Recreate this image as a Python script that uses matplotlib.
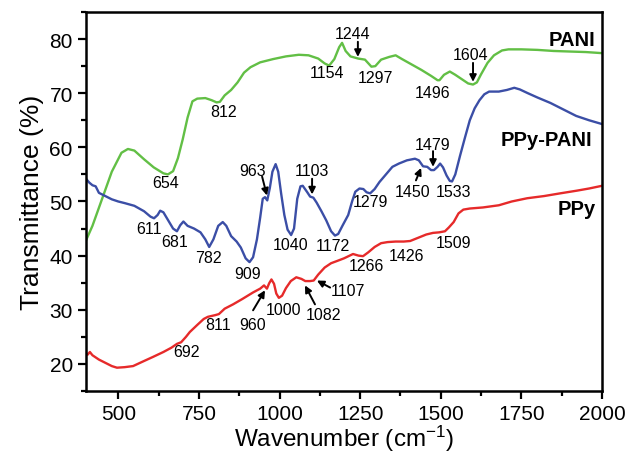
import matplotlib
matplotlib.use('Agg')
from matplotlib import pyplot as plt
from matplotlib.ticker import MultipleLocator

plt.rcParams['font.family'] = ['Liberation Sans', 'DejaVu Sans']
plt.rcParams['mathtext.default'] = 'regular'

# FTIR spectra: wavenumber (cm-1), transmittance (%)
pani_x = [400, 420, 450, 480, 510, 530, 550, 580, 610, 640, 654, 670, 685, 700, 715,
          730, 745, 770, 790, 805, 815, 830, 850, 870, 890, 910, 940, 980, 1020, 1060,
          1090, 1120, 1140, 1154, 1170, 1185, 1194, 1205, 1220, 1244, 1265, 1285, 1297,
          1315, 1340, 1360, 1380, 1410, 1440, 1470, 1490, 1496, 1510, 1528, 1545, 1565,
          1585, 1600, 1612, 1625, 1645, 1665, 1690, 1710, 1750, 1800, 1850, 1900, 1950, 2000]
pani_y = [42.8, 45.5, 50.5, 55.5, 59.0, 59.7, 59.4, 57.8, 56.3, 55.2, 55.0, 55.6, 58.0, 61.5, 65.5,
          68.5, 69.0, 69.1, 68.7, 68.3, 68.4, 69.6, 70.6, 72.0, 73.8, 74.8, 75.7, 76.3, 76.8, 77.1,
          77.0, 76.4, 75.5, 75.1, 76.3, 78.5, 79.3, 77.8, 76.8, 76.4, 76.2, 74.9, 75.0,
          76.2, 76.7, 77.0, 76.3, 75.3, 74.3, 73.2, 72.4, 72.4, 73.4, 74.0, 73.4, 72.6,
          71.8, 71.6, 72.0, 73.5, 75.6, 77.0, 77.9, 78.1, 78.1, 78.0, 77.8, 77.7, 77.6, 77.4]

mix_x = [400, 410, 420, 430, 440, 460, 480, 500, 520, 550, 580, 600, 611, 622, 630, 640, 655,
         670, 682, 692, 702, 715, 735, 755, 770, 782, 795, 810, 824, 835, 850, 867, 880,
         895, 907, 918, 930, 940, 948, 955, 962, 970, 978, 988, 996, 1005, 1015, 1025,
         1036, 1045, 1055, 1065, 1072, 1085, 1095, 1105, 1115, 1130, 1145, 1160, 1172,
         1182, 1195, 1213, 1225, 1235, 1248, 1260, 1270, 1281, 1295, 1310, 1330, 1350,
         1370, 1395, 1420, 1432, 1445, 1458, 1470, 1479, 1490, 1498, 1507, 1518, 1528,
         1535, 1545, 1560, 1575, 1590, 1605, 1620, 1635, 1650, 1680, 1705, 1728, 1745,
         1770, 1800, 1840, 1880, 1920, 1960, 2000]
mix_y = [54.2, 53.5, 53.0, 52.8, 51.6, 51.0, 50.4, 50.0, 49.7, 49.2, 48.2, 47.2, 46.9, 47.5, 48.3, 48.0, 46.5,
         45.0, 44.5, 45.6, 46.3, 45.5, 45.0, 44.3, 43.0, 41.6, 43.0, 45.5, 46.2, 45.5, 43.6, 42.6, 41.5,
         39.5, 38.8, 39.7, 43.0, 47.0, 50.5, 50.8, 50.2, 52.5, 55.5, 56.9, 55.5, 51.5, 47.5, 44.8,
         43.8, 45.0, 50.5, 52.8, 52.9, 51.8, 50.9, 50.7, 49.8, 48.2, 46.5, 44.5, 43.7,
         44.0, 45.5, 47.5, 50.0, 51.8, 52.4, 52.3, 51.7, 51.5, 52.3, 53.6, 55.0, 56.4,
         57.0, 57.6, 57.9, 57.6, 56.5, 56.4, 55.8, 55.8, 56.4, 57.0, 56.3, 54.8, 53.8,
         53.7, 55.0, 58.5, 61.8, 65.0, 67.2, 68.7, 69.8, 70.3, 70.3, 70.6, 71.0, 70.7,
         70.0, 69.2, 68.2, 67.0, 65.8, 65.0, 64.3]

ppy_x = [400, 405, 412, 420, 440, 460, 480, 496, 520, 546, 575, 608, 640, 665, 682, 695,
         710, 722, 745, 765, 778, 800, 812, 830, 856, 885, 918, 940, 952, 961, 968, 975,
         983, 990, 998, 1008, 1020, 1035, 1052, 1068, 1080, 1095, 1106, 1120, 1140, 1160,
         1178, 1200, 1228, 1245, 1259, 1275, 1295, 1315, 1335, 1360, 1385, 1405, 1430,
         1455, 1476, 1495, 1513, 1525, 1540, 1555, 1570, 1590, 1631, 1680, 1720, 1768,
         1820, 1870, 1922, 1960, 2000]
ppy_y = [22.0, 21.7, 22.2, 21.6, 20.8, 20.2, 19.6, 19.3, 19.4, 19.6, 20.4, 21.3, 22.2, 23.0, 23.7, 24.0,
         25.0, 25.9, 27.2, 28.3, 28.7, 29.0, 29.2, 30.2, 31.0, 32.0, 33.2, 33.9, 34.5, 33.9, 34.9, 35.6,
         34.8, 33.0, 32.2, 32.6, 34.0, 35.3, 36.0, 35.7, 35.3, 35.3, 35.4, 36.5, 37.8, 38.6,
         39.0, 39.5, 40.3, 40.0, 39.9, 40.6, 41.6, 42.3, 42.5, 42.6, 42.6, 42.7, 43.3,
         43.9, 44.2, 44.3, 44.5, 45.2, 46.2, 47.8, 48.5, 48.7, 48.9, 49.3, 50.0, 50.6,
         51.0, 51.5, 52.0, 52.4, 52.9]

names = ['PANI', 'PPy-PANI', 'PPy']
colors = ['#62bf45', '#3b4ea6', '#e62a2a']

# peak labels: (text, text x, text y)
peak_labels = [
    ('654', 648, 53.5), ('812', 828, 66.7), ('1154', 1147, 73.8), ('1244', 1225, 81.1),
    ('1297', 1296, 72.9), ('1496', 1476, 70.1), ('1604', 1591, 77.1),
    ('611', 595, 45.1), ('681', 676, 42.7), ('782', 781, 39.6), ('909', 902, 36.7),
    ('963', 918, 55.7), ('1040', 1033, 42.0), ('1103', 1101, 55.7), ('1172', 1166, 41.8),
    ('1279', 1281, 50.0), ('1450', 1411, 51.8), ('1479', 1476, 60.6), ('1533', 1538, 51.8),
    ('692', 713, 22.2), ('811', 809, 27.2), ('960', 918, 27.3), ('1000', 1011, 30.1),
    ('1082', 1135, 29.2), ('1107', 1212, 33.6), ('1266', 1271, 38.1), ('1426', 1395, 40.1),
    ('1509', 1538, 42.5),
]
# arrows: (tail x, tail y, head x, head y)
arrows = [
    (1243, 79.5, 1243, 76.7), (1600, 75.6, 1600, 72.1),
    (946, 54.6, 961, 51.1), (1101, 54.2, 1101, 51.3), (1423, 53.9, 1439, 56.2),
    (1476, 59.3, 1476, 56.4),
    (918, 29.9, 955, 33.6), (1110, 31.0, 1079, 34.5), (1157, 34.1, 1116, 35.4),
]

fig = plt.figure(figsize=(6.3, 4.56), dpi=100)
ax = fig.add_axes([0.1365, 0.1404, 0.8191, 0.8311])

for xs, ys, c in zip([pani_x, mix_x, ppy_x], [pani_y, mix_y, ppy_y], colors):
    ax.plot(xs, ys, color=c, lw=1.7)

for txt, tx, ty in peak_labels:
    ax.text(tx, ty, txt, fontsize=11.5, ha='center', va='center')
for x0, y0, x1, y1 in arrows:
    ax.annotate('', xy=(x1, y1), xytext=(x0, y0),
                arrowprops=dict(arrowstyle='-|>', color='k', lw=1.4,
                                mutation_scale=10, shrinkA=0, shrinkB=0))

ax.text(1907, 80.0, names[0], fontsize=14.5, fontweight='bold', ha='center', va='center')
ax.text(1829, 61.5, names[1], fontsize=14.5, fontweight='bold', ha='center', va='center')
ax.text(1922, 48.7, names[2], fontsize=14.5, fontweight='bold', ha='center', va='center')

ax.set_xlim(400, 2000)
ax.set_ylim(15, 85)
ax.xaxis.set_major_locator(MultipleLocator(250))
ax.xaxis.set_minor_locator(MultipleLocator(125))
ax.yaxis.set_major_locator(MultipleLocator(10))
ax.yaxis.set_minor_locator(MultipleLocator(5))
ax.set_yticks(range(20, 90, 10))
ax.tick_params(which='major', direction='out', length=6, width=1.6, labelsize=15)
ax.tick_params(which='minor', direction='out', length=3.5, width=1.6)
for s in ax.spines.values():
    s.set_linewidth(1.8)

ax.set_xlabel('Wavenumber (cm$^{-1}$)', fontsize=17.5, labelpad=0)
ax.set_ylabel('Transmittance (%)', fontsize=19, labelpad=4)

fig.savefig('out.png', dpi=100)
